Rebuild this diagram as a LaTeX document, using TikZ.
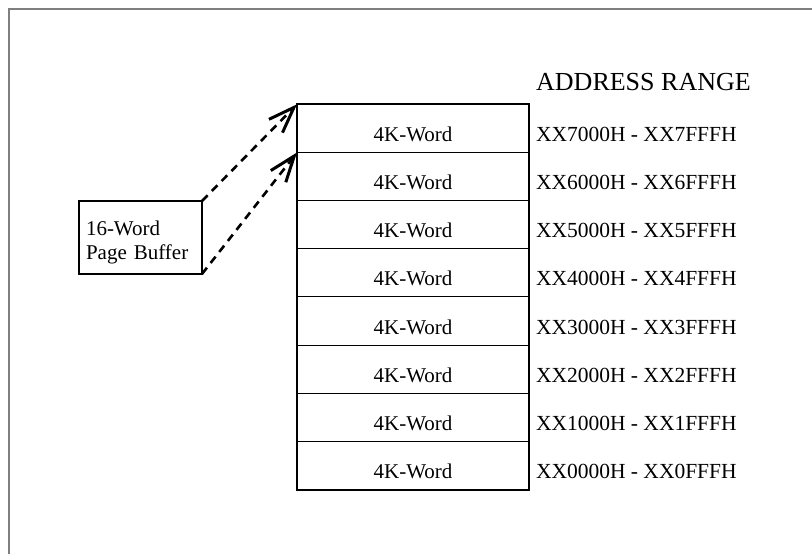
\documentclass[tikz,border=0pt]{standalone}
\usepackage{fontspec}
\setmainfont{Liberation Serif}
\usepackage{xcolor}
\definecolor{frameGray}{HTML}{7F7F7F}
\usepackage{tikz}
\usetikzlibrary{arrows.meta,positioning}
\tikzset{
    pageframe/.style={
        draw=frameGray,
        line width=2pt
    },
    wordrow/.style={
        draw=black,
        line width=1pt,
        rectangle,
        minimum width=232pt,
        minimum height=48.15pt,
        inner sep=0pt,
        outer sep=0pt,
        text height=26pt,
        text depth=0pt,
        font=\fontsize{21}{24}\selectfont
    },
    addr/.style={
        inner sep=0pt,
        outer sep=0pt,
        text height=26pt,
        text depth=0pt,
        font=\fontsize{21.5}{24}\selectfont
    },
    header/.style={
        inner sep=0pt,
        anchor=base west,
        font=\fontsize{26}{30}\selectfont
    },
    bufferbox/.style={
        draw=black,
        line width=2pt,
        rectangle,
        minimum width=123pt,
        minimum height=73pt,
        inner xsep=7pt,
        outer sep=0pt,
        text width=109pt,
        align=left,
        font=\fontsize{21}{24.5}\selectfont
    },
    blockline/.style={
        draw=black,
        line width=2pt
    },
    dasharrow/.style={
        -{Straight Barb[length=26pt,width=19pt,line width=3pt]},
        line width=2.6pt,
        dash pattern=on 8pt off 6pt
    }
}
\begin{document}
\begin{tikzpicture}[x=1pt,y=-1pt]
    \useasboundingbox (0,0) rectangle (812,554);
    \draw[pageframe] (8.5,8.5) rectangle (840,580);

    % memory block, one row per 4K page
    \node[wordrow] (row7) at (413,128.4) {4K-Word};
    \node[wordrow, below=0pt of row7] (row6) {4K-Word};
    \node[wordrow, below=0pt of row6] (row5) {4K-Word};
    \node[wordrow, below=0pt of row5] (row4) {4K-Word};
    \node[wordrow, below=0pt of row4] (row3) {4K-Word};
    \node[wordrow, below=0pt of row3] (row2) {4K-Word};
    \node[wordrow, below=0pt of row2] (row1) {4K-Word};
    \node[wordrow, below=0pt of row1] (row0) {4K-Word};
    \draw[blockline] (row7.north west) rectangle (row0.south east);

    \node[addr, right=7pt of row7] (addr7) {XX7000H - XX7FFFH};
    \node[addr, right=7pt of row6] (addr6) {XX6000H - XX6FFFH};
    \node[addr, right=7pt of row5] (addr5) {XX5000H - XX5FFFH};
    \node[addr, right=7pt of row4] (addr4) {XX4000H - XX4FFFH};
    \node[addr, right=7pt of row3] (addr3) {XX3000H - XX3FFFH};
    \node[addr, right=7pt of row2] (addr2) {XX2000H - XX2FFFH};
    \node[addr, right=7pt of row1] (addr1) {XX1000H - XX1FFFH};
    \node[addr, right=7pt of row0] (addr0) {XX0000H - XX0FFFH};
    \node[header] (range) at ([yshift=50.7pt]addr7.base west) {ADDRESS RANGE};

    \node[bufferbox] (buffer) at (140.5,237.5) {\rule{0pt}{24.3pt}16-Word\\Page Buffer};

    \draw[dasharrow] (buffer.north east) -- (row7.north west);
    \draw[dasharrow] (buffer.south east) -- (row6.north west);
\end{tikzpicture}
\end{document}
